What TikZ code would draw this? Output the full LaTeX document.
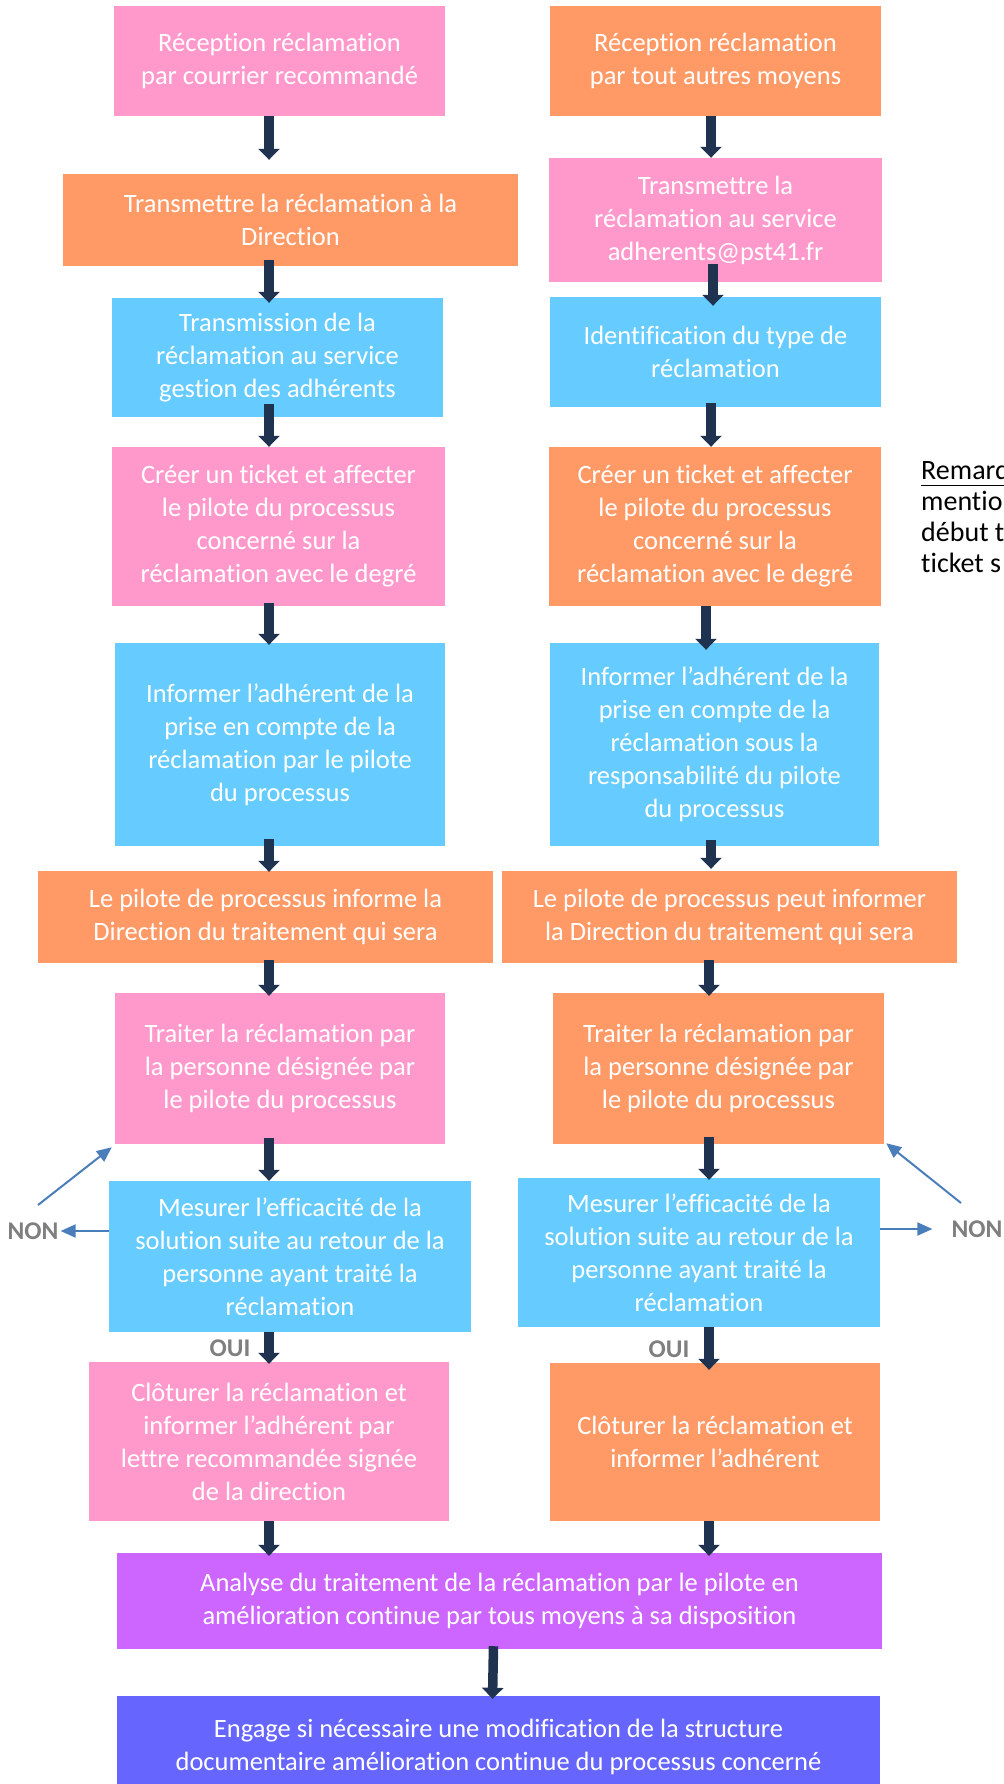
\documentclass[tikz,border=0pt]{standalone}
\usepackage{fontspec}
\setmainfont{Carlito}[Ligatures={NoCommon},RawFeature={-liga}]
\usetikzlibrary{arrows.meta,calc}
\definecolor{cpink}{HTML}{FF99CC}
\definecolor{corange}{HTML}{FF9966}
\definecolor{cblue}{HTML}{66CCFF}
\definecolor{cpurple}{HTML}{CC66FF}
\definecolor{cviolet}{HTML}{6666FF}
\definecolor{cnavy}{HTML}{1F3350}
\definecolor{cfb}{HTML}{4A7EBB}
\definecolor{cgray}{HTML}{7F7F7F}
\newcommand\bx[7]{\node[box,fill=#6,minimum width={(#4-#2)*1pt},minimum height={(#5-#3)*1pt}] (#1) at ({(#2+#4)/2},{(#3+#5)/2}) {#7};}
\begin{document}
\begin{tikzpicture}[x=1pt,y=-1pt,
  box/.style={draw=none,inner sep=0pt,align=center,text=white,font=\fontsize{26.5}{33}\selectfont},
  arr/.style={draw=cnavy,line width=9.5pt,-{Triangle[width=21pt,length=11pt]}},
  fb/.style={draw=cfb,line width=2pt,-{Triangle[width=13pt,length=15pt]}},
  lbl/.style={text=cgray,font=\bfseries\fontsize{25.5}{28}\selectfont,inner sep=2pt},
  note/.style={text=black,align=left,anchor=west,inner sep=0pt,font=\fontsize{28}{31}\selectfont}]
\useasboundingbox (0,0) rectangle (1003,1784);
\coordinate (cL) at (269,0);
\coordinate (cR) at (709,0);
\bx{L1}{114}{6}{445}{116}{cpink}{Réception réclamation\\par courrier recommandé}
\bx{R1}{550}{6}{881}{116}{corange}{Réception réclamation\\par tout autres moyens}
\bx{L2}{63}{174}{518}{266}{corange}{Transmettre la réclamation à la\\Direction}
\bx{R2}{549}{158}{882}{282}{cpink}{Transmettre la\\réclamation au service\\adherents@pst41.fr}
\bx{L3}{112}{298}{443}{417}{cblue}{Transmission de la\\réclamation au service\\gestion des adhérents}
\bx{R3}{550}{297}{881}{407}{cblue}{Identification du type de\\réclamation}
\bx{L4}{112}{447}{445}{606}{cpink}{Créer un ticket et affecter\\le pilote du processus\\concerné sur la\\réclamation avec le degré}
\bx{R4}{549}{447}{881}{606}{corange}{Créer un ticket et affecter\\le pilote du processus\\concerné sur la\\réclamation avec le degré}
\bx{L5}{115}{643}{445}{846}{cblue}{Informer l’adhérent de la\\prise en compte de la\\réclamation par le pilote\\du processus}
\bx{R5}{550}{643}{879}{846}{cblue}{Informer l’adhérent de la\\prise en compte de la\\réclamation sous la\\responsabilité du pilote\\du processus}
\bx{L6}{38}{871}{493}{963}{corange}{Le pilote de processus informe la\\Direction du traitement qui sera}
\bx{R6}{502}{871}{957}{963}{corange}{Le pilote de processus peut informer\\la Direction du traitement qui sera}
\bx{L7}{115}{993}{445}{1144}{cpink}{Traiter la réclamation par\\la personne désignée par\\le pilote du processus}
\bx{R7}{553}{993}{884}{1144}{corange}{Traiter la réclamation par\\la personne désignée par\\le pilote du processus}
\bx{L8}{109}{1181}{471}{1332}{cblue}{Mesurer l’efficacité de la\\solution suite au retour de la\\personne ayant traité la\\réclamation}
\bx{R8}{518}{1178}{880}{1327}{cblue}{Mesurer l’efficacité de la\\solution suite au retour de la\\personne ayant traité la\\réclamation}
\bx{L9}{89}{1362}{449}{1521}{cpink}{Clôturer la réclamation et\\informer l’adhérent par\\lettre recommandée signée\\de la direction}
\bx{R9}{550}{1363}{880}{1521}{corange}{Clôturer la réclamation et\\informer l’adhérent}
\bx{P}{117}{1553}{882}{1649}{cpurple}{Analyse du traitement de la réclamation par le pilote en\\amélioration continue par tous moyens à sa disposition}
\bx{V}{117}{1696}{880}{1798}{cviolet}{Engage si nécessaire une modification de la structure\\documentaire amélioration continue du processus concerné}
% remark
\node[note] (rem) at (921,517) {\underline{Remarq}\\mentio\\début t\\ticket s};
% labels
\node[lbl] (nonL) at (33,1231) {NON};
\node[lbl] (nonR) at (977,1229) {NON};
\node[lbl] (ouiL) at (230,1348) {OUI};
\node[lbl] (ouiR) at (669,1349) {OUI};
\coordinate (fbL) at (38,1205);
\coordinate (fbR) at (961,1203);
% left arrows
\draw[arr] ($(L1.south -| cL)+(0,0)$) -- ($(L2.north -| cL)+(0,-14)$);
\draw[arr] ($(L2.south -| cL)+(0,-6)$) -- ($(L3.north -| cL)+(0,5)$);
\draw[arr] ($(L3.south -| cL)+(0,-13)$) -- ($(L4.north -| cL)+(0,0)$);
\draw[arr] ($(L4.south -| cL)+(0,-3)$) -- ($(L5.north -| cL)+(0,2)$);
\draw[arr] ($(L5.south -| cL)+(0,-7)$) -- ($(L6.north -| cL)+(0,1)$);
\draw[arr] ($(L6.south -| cL)+(0,-3)$) -- ($(L7.north -| cL)+(0,3)$);
\draw[arr] ($(L7.south -| cL)+(0,-6)$) -- ($(L8.north -| cL)+(0,0)$);
\draw[arr] ($(L8.south -| cL)+(0,0)$) -- ($(L9.north -| cL)+(0,2)$);
\draw[arr] ($(L9.south -| cL)+(0,0)$) -- ($(P.north -| cL)+(0,3)$);
% right arrows
\draw[arr] ($(R1.south -| cR)+(2,0)$) -- ($(R2.north -| cR)+(2,0)$);
\draw[arr] ($(R2.south -| cR)+(4,-18)$) -- ($(R3.north -| cR)+(4,9)$);
\draw[arr] ($(R3.south -| cR)+(2,-4)$) -- ($(R4.north -| cR)+(2,0)$);
\draw[arr] ($(R4.south -| cR)+(-3,0)$) -- ($(R5.north -| cR)+(-3,7)$);
\draw[arr] ($(R5.south -| cR)+(2,-6)$) -- ($(R6.north -| cR)+(2,-2)$);
\draw[arr] ($(R6.south -| cR)+(0,-3)$) -- ($(R7.north -| cR)+(0,3)$);
\draw[arr] ($(R7.south -| cR)+(0,-7)$) -- ($(R8.north -| cR)+(0,2)$);
\draw[arr] ($(R8.south -| cR)+(0,0)$) -- ($(R9.north -| cR)+(0,7)$);
\draw[arr] ($(R9.south -| cR)+(0,0)$) -- ($(P.north -| cR)+(0,3)$);
% center arrow
\draw[arr] ($(P.south)+(-6,-3)$) -- ($(V.north)+(-6,3)$);
% feedback arrows
\draw[fb] (fbL) -- ($(L7.south west)+(-3,3)$);
\draw[fb] (fbR) -- ($(R7.south east)+(2,-1)$);
\draw[fb] (L8.west |- nonL.east) -- (nonL.east);
\draw[fb] (R8.east |- nonR.west) -- ($(nonR.west)+(-17,0)$);
\end{tikzpicture}
\end{document}
